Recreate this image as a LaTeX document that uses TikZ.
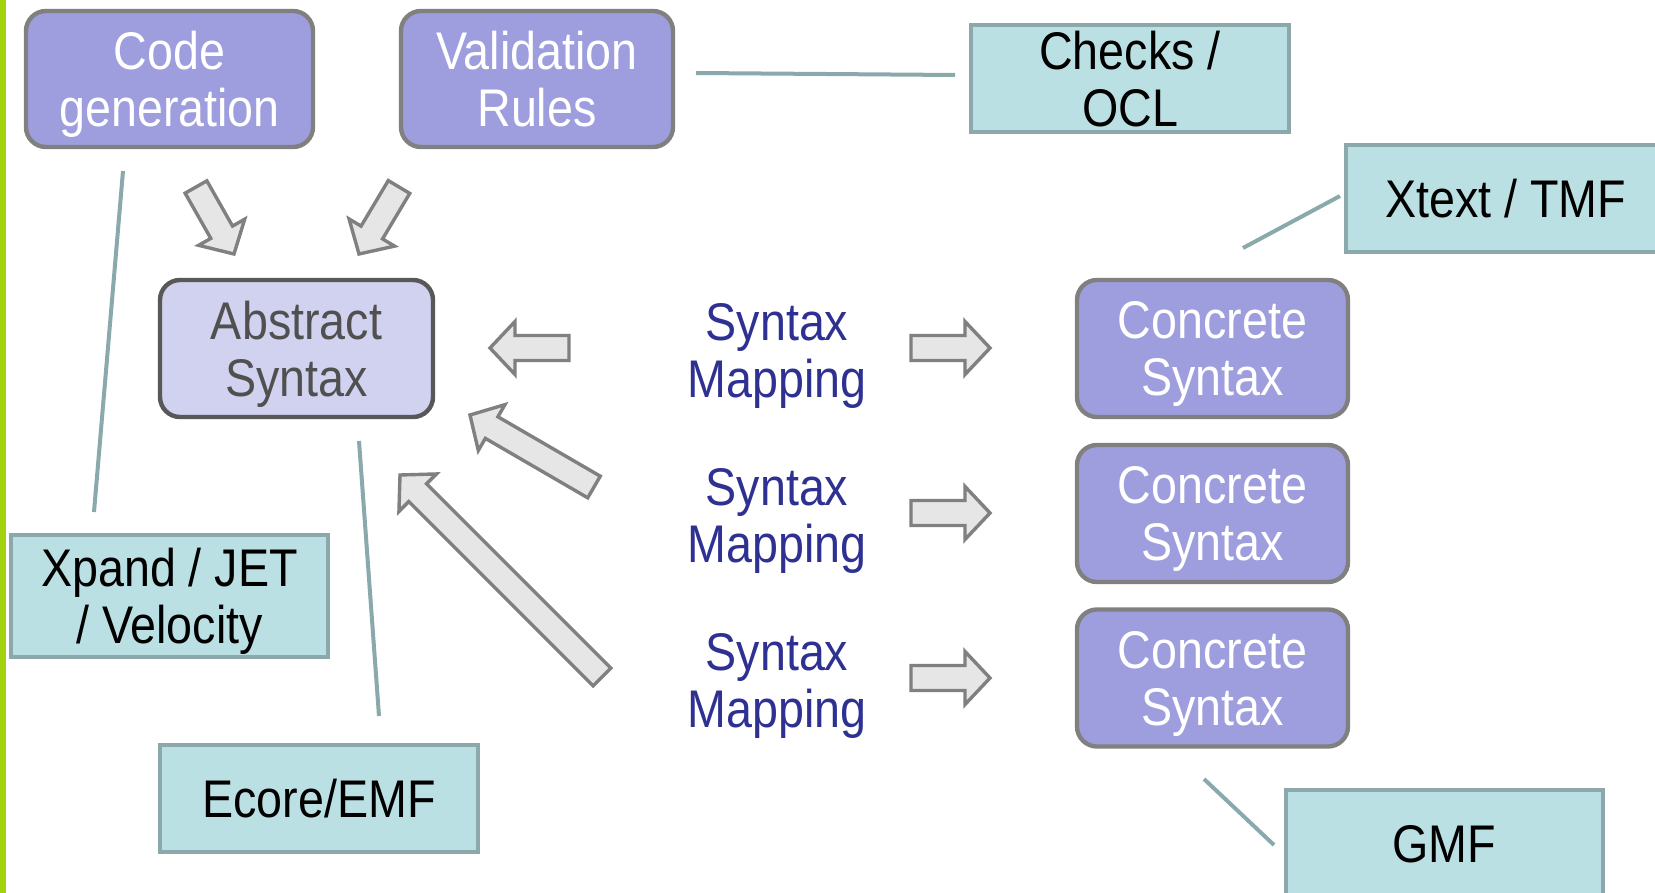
\documentclass[tikz,border=0pt]{standalone}
\usepackage{fontspec}
\setmainfont{Liberation Sans}[FakeStretch=0.88]
\usetikzlibrary{calc}

\definecolor{conceptfill}{HTML}{9E9EDE}
\definecolor{conceptline}{HTML}{808080}
\definecolor{absfill}{HTML}{D1D1F0}
\definecolor{absline}{HTML}{585858}
\definecolor{abstext}{HTML}{505050}
\definecolor{toolfill}{HTML}{BBE0E3}
\definecolor{toolline}{HTML}{8BA8AA}
\definecolor{linkcol}{HTML}{8AA9AB}
\definecolor{arrowfill}{HTML}{E6E6E6}
\definecolor{arrowline}{HTML}{808080}
\definecolor{mapblue}{HTML}{2E3192}
\definecolor{greenbar}{HTML}{A2D20E}

\tikzset{
  base/.style={align=center, font=\fontsize{26.5pt}{28.5pt}\selectfont, inner sep=0pt, text depth=0pt},
  concept/.style={base, rounded corners=10pt, draw=conceptline, fill=conceptfill, line width=2.2pt, text=white},
  abstractbox/.style={base, rounded corners=10pt, draw=absline, fill=absfill, line width=2.2pt, text=abstext},
  tool/.style={base, draw=toolline, fill=toolfill, line width=2pt, text=black},
  mapping/.style={base, text=mapblue},
  link/.style={draw=linkcol, line width=2pt},
  blockarrow/.style={draw=arrowline, fill=arrowfill, line width=1.7pt, line join=miter},
}

% hollow block arrow from tail #1 to tip #2
\newcommand\blkarrow[2]{%
  \coordinate (ba-h) at ($(#2)!12.5pt!(#1)$);
  \draw[blockarrow] ($(#1)!6.25pt!90:(#2)$) -- ($(ba-h)!6.25pt!90:(#2)$)
    -- ($(ba-h)!13.25pt!90:(#2)$) -- (#2) -- ($(ba-h)!13.25pt!-90:(#2)$)
    -- ($(ba-h)!6.25pt!-90:(#2)$) -- ($(#1)!6.25pt!-90:(#2)$) -- cycle;}

\begin{document}
\begin{tikzpicture}[x=0.5pt, y=-0.5pt]
\useasboundingbox (0,0) rectangle (1655,893);
\clip (0,0) rectangle (1655,893);
\fill[white] (0,0) rectangle (1655,893);
\fill[greenbar] (0,0) rectangle (6,893);

% boxes
\node[concept, minimum width=143.5pt, minimum height=68pt] (codegen) at (169.5,79) {Code\\generation};
\node[concept, minimum width=136pt, minimum height=68pt] (valid) at (537,79) {Validation\\Rules};
\node[tool, minimum width=159pt, minimum height=53.5pt] (checks) at (1130,78.5) {Checks /\\OCL};
\node[tool, minimum width=159.5pt, minimum height=53.5pt] (xtext) at (1505.5,198.5) {Xtext / TMF};
\node[abstractbox, minimum width=136.5pt, minimum height=68.5pt] (abs) at (296.5,348.5) {Abstract\\Syntax};
\node[concept, minimum width=135.5pt, minimum height=68.5pt] (cs1) at (1212.5,348.5) {Concrete\\Syntax};
\node[concept, minimum width=135.5pt, minimum height=68.5pt] (cs2) at (1212.5,513.5) {Concrete\\Syntax};
\node[concept, minimum width=135.5pt, minimum height=68.5pt] (cs3) at (1212.5,678) {Concrete\\Syntax};
\node[tool, minimum width=158.5pt, minimum height=61pt] (xpand) at (169.5,596) {Xpand / JET\\/ Velocity};
\node[tool, minimum width=159pt, minimum height=53.5pt] (ecore) at (319,798.5) {Ecore/EMF};
\node[tool, minimum width=158.5pt, minimum height=53.5pt] (gmf) at (1444.5,843.5) {GMF};

% mapping labels
\node[mapping] (map1) at (777,350) {Syntax\\Mapping};
\node[mapping] (map2) at (777,515) {Syntax\\Mapping};
\node[mapping] (map3) at (777,680) {Syntax\\Mapping};

% tool links
\coordinate (codegen-l) at (123,171);  \coordinate (xpand-l) at (94,512);
\coordinate (abs-l) at (359,441);      \coordinate (ecore-l) at (379,716);
\coordinate (valid-l) at (696,73);     \coordinate (checks-l) at (955,75);
\coordinate (xtext-l) at (1340,196);   \coordinate (cs1-l) at (1243,248);
\coordinate (cs3-l) at (1204,779);     \coordinate (gmf-l) at (1274,845);
\draw[link] (codegen-l) -- (xpand-l);
\draw[link] (abs-l) -- (ecore-l);
\draw[link] (valid-l) -- (checks-l);
\draw[link] (xtext-l) -- (cs1-l);
\draw[link] (cs3-l) -- (gmf-l);

% block arrows
\coordinate (cg-tail) at (196,187);   \coordinate (cg-tip) at (234,254);
\coordinate (vr-tail) at (399,187);   \coordinate (vr-tip) at (359,254);
\coordinate (m1-tail) at (569,348);   \coordinate (m1-tip) at (490,348);
\coordinate (m2-tail) at (594,487);   \coordinate (m2-tip) at (470,415);
\coordinate (m3-tail) at (602,677);   \coordinate (m3-tip) at (400,475);
\coordinate (c1-tail) at (911,348);   \coordinate (c1-tip) at (990,348);
\coordinate (c2-tail) at (911,513);   \coordinate (c2-tip) at (990,513);
\coordinate (c3-tail) at (911,678);   \coordinate (c3-tip) at (990,678);
\blkarrow{cg-tail}{cg-tip}
\blkarrow{vr-tail}{vr-tip}
\blkarrow{m1-tail}{m1-tip}
\blkarrow{m2-tail}{m2-tip}
\blkarrow{m3-tail}{m3-tip}
\blkarrow{c1-tail}{c1-tip}
\blkarrow{c2-tail}{c2-tip}
\blkarrow{c3-tail}{c3-tip}
\end{tikzpicture}
\end{document}
